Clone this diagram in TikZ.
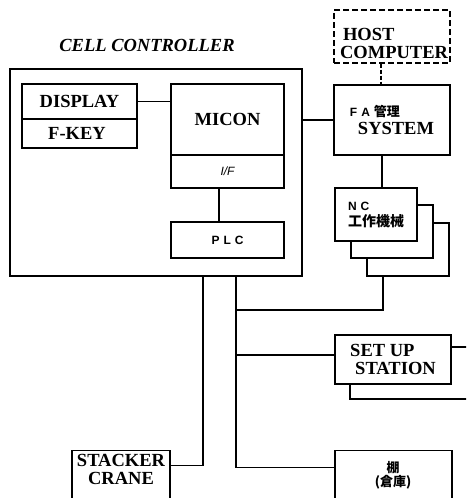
\documentclass[tikz,border=0pt]{standalone}
\usepackage{fontspec}
\setmainfont{Liberation Serif}
\setsansfont{Liberation Sans}
\newfontfamily\jpfont{Noto Sans CJK JP}
\usetikzlibrary{positioning}

\begin{document}
\begin{tikzpicture}[x=1pt,y=-1pt,line width=1.1pt,
  blk/.style={draw,fill=white,inner sep=0pt,align=center},
  big/.style={font=\bfseries\fontsize{18.5}{18}\selectfont},
  sml/.style={font=\sffamily\bfseries\fontsize{12}{14}\selectfont}]
\clip (0,0) rectangle (466,498);
% cell controller
\node[blk,minimum width=292pt,minimum height=207pt] (cell) at (156,172.5) {};
\node[font=\bfseries\itshape\fontsize{18.5}{18}\selectfont] (title) at (147,45) {CELL CONTROLLER};
\node[blk,big,minimum width=115pt,minimum height=35pt] (disp) at (79.5,101.5) {DISPLAY};
\node[blk,big,minimum width=115pt,minimum height=29pt] (fkey) at (79.5,133.5) {F-KEY\hspace{5pt}};
\node[blk,big,minimum width=113pt,minimum height=71pt] (micon) at (227.5,119.5) {MICON};
\node[blk,minimum width=113pt,minimum height=33pt,font=\sffamily\itshape\fontsize{12}{12}\selectfont] (if) at (227.5,171.5) {I/F};
\node[blk,sml,minimum width=113pt,minimum height=36pt] (plc) at (227.5,240) {P\,\,L\,\,C};
\draw (disp.east) -- (disp.east -| micon.west);
\draw ([xshift=-8.5pt]if.south) -- ([xshift=-8.5pt]plc.north);

% host side
\node[blk,dash pattern=on 6pt off 3pt,minimum width=116pt,minimum height=53pt] (host) at (392,36.5) {};
\node[big,align=left] (hosttxt) at (394,43) {\hspace{3pt}HOST\\COMPUTER};
\node[blk,big,minimum width=116pt,minimum height=70pt,align=left] (fa) at (392,120)
  {{\sffamily\fontsize{12}{14}\selectfont F\,\,A\,\,}{\jpfont\fontsize{13}{14}\selectfont 管理}\\
   \hspace{8pt}SYSTEM};
\draw[dash pattern=on 4pt off 2pt] ([xshift=-11pt]host.south) -- ([xshift=-11pt]fa.north);
\draw (fa.west) -- (fa.west -| cell.east);

% NC machines
\node[blk,minimum width=82pt,minimum height=53pt] (nc3) at (408,249.5) {};
\node[blk,minimum width=82pt,minimum height=53pt] (nc2) at (392,231.5) {};
\node[blk,minimum width=82pt,minimum height=53pt,align=left,font=\jpfont\bfseries\fontsize{14}{16}\selectfont] (nc1) at (376,214.5)
  {{\sffamily\fontsize{12}{14}\selectfont N\,\,C}\\工作機械};
\draw ([xshift=-10pt]fa.south) -- ([xshift=-10pt]fa.south |- nc1.north);

% bus
\coordinate (tapA) at (203,276);
\coordinate (tapB) at (236,276);
\coordinate (j1) at (236,310);
\draw ([xshift=-25pt]nc3.south) |- (j1);

% setup station
\node[blk,minimum width=125pt,minimum height=52pt] (setup2) at (412.5,373) {};
\node[blk,big,minimum width=116pt,minimum height=49pt,align=left] (setup) at (393,359.5)
  {SET UP\\\hspace{5pt}STATION};
\draw ([yshift=4.5pt]tapB |- setup.west) -- ([yshift=4.5pt]setup.west);

% stacker crane and shelf
\node[blk,minimum width=98pt,minimum height=60pt,anchor=north] (stk) at (121,450) {};
\node[big,align=center] (stktxt) at (121,469.5) {STACKER\\CRANE};
\node[blk,minimum width=117pt,minimum height=60pt,anchor=north] (shelf) at (393.5,450) {};
\node[font=\jpfont\bfseries\fontsize{13}{14}\selectfont,align=center] (shelftxt) at (393,475) {棚\\(倉庫)};
\draw (tapA) |- ([yshift=15pt]stk.east);
\draw (tapB) |- ([yshift=13pt]shelf.west);
\end{tikzpicture}
\end{document}
